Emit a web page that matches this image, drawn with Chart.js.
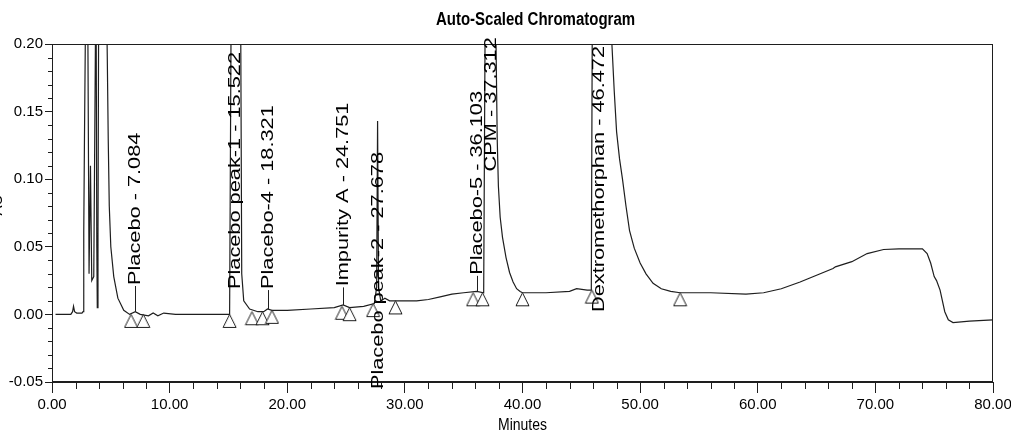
<!DOCTYPE html>
<html>
<head>
<meta charset="utf-8">
<title>Auto-Scaled Chromatogram</title>
<script src="https://cdn.jsdelivr.net/npm/chart.js@4.4.1/dist/chart.umd.min.js"></script>
<style>
    html, body { margin: 0; padding: 0; background: #fff; }
    #wrap { width: 1011px; height: 434px; }
</style>
</head>
<body>
<div id="wrap"><canvas id="chromChart" width="1011" height="434"></canvas></div>
<script>
// Detector trace: retention time (min) and absorbance (AU)
const times = [
    0.3, 1.0, 1.6, 1.75, 1.83, 1.92, 2.1, 2.55, 2.64, 2.70, 2.76, 2.89, 3.02, 3.15, 3.27, 3.38,
    3.55, 3.74, 3.81, 3.85, 3.91, 3.98, 4.59, 4.70, 4.78, 4.87, 5.00, 5.25, 5.60, 6.10, 6.60,
    7.08, 7.50, 8.20, 8.60, 9.00, 9.50, 10.5, 12.0, 13.5, 15.10, 15.25, 15.95, 16.05, 16.13,
    16.30, 16.80, 17.50, 18.00, 18.32, 18.70, 20.0, 22.0, 24.0, 24.75, 25.3, 26.5, 27.40, 27.60,
    27.68, 27.76, 27.95, 28.30, 28.70, 30.0, 31.0, 32.0, 33.0, 34.0, 35.0, 36.10, 36.70, 36.85,
    37.70, 37.75, 37.85, 37.95, 38.10, 38.30, 38.60, 38.90, 39.20, 39.50, 39.80, 40.0, 42.0, 44.0,
    44.6, 45.5, 45.85, 45.95, 47.55, 47.60, 47.80, 48.00, 48.25, 48.50, 48.80, 49.10, 49.50, 50.00,
    50.50, 51.10, 51.80, 52.60, 53.4, 56.0, 59.0, 60.5, 62.0, 63.6, 65.0, 66.4, 66.6, 68.0, 69.3,
    70.7, 72.0, 74.0, 74.4, 74.7, 75.0, 75.2, 75.5, 75.9, 76.2, 76.6, 78.0, 80.0
];
const absorbance = [
    0.000, 0.000, 0.000, 0.002, 0.006, 0.002, 0.001, 0.001, 0.002, 0.060, 0.130, 0.260, 0.260, 0.030, 0.110, 0.025,
    0.028, 0.260, 0.050, 0.005, 0.060, 0.260, 0.260, 0.190, 0.130, 0.080, 0.050, 0.028, 0.012, 0.003, 0.000,
    0.002, 0.000, -0.001, 0.001, -0.001, 0.001, 0.000, 0.000, 0.000, 0.000, 0.260, 0.260, 0.200, 0.030,
    0.010, 0.004, 0.002, 0.002, 0.004, 0.003, 0.003, 0.004, 0.005, 0.007, 0.005, 0.006, 0.008, 0.020,
    0.143, 0.020, 0.010, 0.012, 0.010, 0.010, 0.010, 0.011, 0.013, 0.015, 0.016, 0.017, 0.016, 0.260,
    0.260, 0.200, 0.130, 0.095, 0.072, 0.057, 0.042, 0.031, 0.024, 0.019, 0.017, 0.016, 0.016, 0.017,
    0.019, 0.018, 0.018, 0.260, 0.260, 0.200, 0.165, 0.135, 0.115, 0.100, 0.080, 0.062, 0.049, 0.038,
    0.030, 0.023, 0.019, 0.017, 0.016, 0.016, 0.015, 0.016, 0.019, 0.024, 0.029, 0.034, 0.0352, 0.039, 0.045,
    0.048, 0.0485, 0.0485, 0.045, 0.038, 0.028, 0.025, 0.018, 0.002, -0.004, -0.006, -0.005, -0.004
];

// Integration marks (peak start / end)
const markTimes = [6.72, 7.76, 15.1, 17.0, 17.9, 18.7, 24.65, 25.3, 27.3, 29.2, 35.8, 36.6, 40.0, 45.9, 53.4];
const markValues = [0.000, 0.000, 0.000, 0.002, 0.002, 0.003, 0.006, 0.005, 0.008, 0.010, 0.016, 0.016, 0.016, 0.018, 0.016];

// Named peaks
const peakNames = ['Placebo', 'Placebo peak-1', 'Placebo-4', 'Impurity A', 'Placebo peak-2', 'Placebo-5', 'CPM', 'Dextromethorphan'];
const peakTimes = [7.084, 15.522, 18.321, 24.751, 27.678, 36.103, 37.312, 46.472];

// Tick values
const xTicks = [0, 10, 20, 30, 40, 50, 60, 70, 80];
const yTicks = [-0.05, 0.00, 0.05, 0.10, 0.15, 0.20];

// Layout: AU level where each peak label text begins
const labelStart = [0.021, 0.018, 0.018, 0.020, -0.056, 0.0285, 0.105, 0.001];

const ink = '#1e1e1e';
const fontFamily = '"Liberation Sans", Arial, sans-serif';

function traceAt(t) {
    for (let i = 1; i < times.length; i++) {
        if (times[i] >= t) {
            const f = (t - times[i - 1]) / (times[i] - times[i - 1]);
            return absorbance[i - 1] + f * (absorbance[i] - absorbance[i - 1]);
        }
    }
    return absorbance[absorbance.length - 1];
}

// open triangle whose apex sits on the data point
function triangleMark() {
    const c = document.createElement('canvas');
    c.width = 15;
    c.height = 31;
    const g = c.getContext('2d');
    g.beginPath();
    g.moveTo(7.5, 15.5);
    g.lineTo(1, 28.5);
    g.lineTo(14, 28.5);
    g.closePath();
    g.fillStyle = '#fff';
    g.fill();
    g.strokeStyle = ink;
    g.lineWidth = 1;
    g.stroke();
    return c;
}

function hLine(ctx, x1, y1, x2, y2) {
    ctx.beginPath();
    ctx.moveTo(x1, y1);
    ctx.lineTo(x2, y2);
    ctx.stroke();
}

const chromDecor = {
    id: 'chromDecor',
    afterDraw(chart) {
        const { ctx, chartArea: a, scales: { x, y } } = chart;
        ctx.save();
        ctx.strokeStyle = ink;
        ctx.fillStyle = '#000';
        ctx.lineWidth = 1;

        // frame
        ctx.strokeRect(Math.round(a.left) + 0.5, Math.round(a.top) + 0.5,
            Math.round(a.right - a.left) - 1, Math.round(a.bottom - a.top) - 1);

        // minor ticks
        for (let t = 0; t <= 80; t += 2) {
            if (t % 10 === 0) continue;
            const px = Math.round(x.getPixelForValue(t)) + 0.5;
            hLine(ctx, px, a.bottom, px, a.bottom + 7);
        }
        for (let k = -5; k <= 20; k++) {
            if (k % 5 === 0) continue;
            const py = Math.round(y.getPixelForValue(k / 100)) + 0.5;
            hLine(ctx, a.left - 4, py, a.left + 1, py);
        }

        // peak labels with leader lines
        ctx.font = '17px ' + fontFamily;
        ctx.textBaseline = 'middle';
        ctx.textAlign = 'left';
        peakNames.forEach((name, i) => {
            const px = Math.round(x.getPixelForValue(peakTimes[i])) + 0.5;
            const base = traceAt(peakTimes[i]);
            const startY = y.getPixelForValue(labelStart[i]);
            if (labelStart[i] > base) {
                hLine(ctx, px, y.getPixelForValue(base), px, startY);
            }
            ctx.save();
            ctx.translate(px, startY - 1);
            ctx.rotate(-Math.PI / 2);
            ctx.scale(1.28, 1);
            ctx.fillText(`${name} - ${peakTimes[i].toFixed(3)}`, 0, 0);
            ctx.restore();
        });

        // chart title
        ctx.save();
        ctx.textAlign = 'center';
        ctx.font = 'bold 15px ' + fontFamily;
        ctx.translate((a.left + a.right) / 2 + 13, 20);
        ctx.scale(1, 1.25);
        ctx.fillText('Auto-Scaled Chromatogram', 0, 0);
        ctx.restore();

        // axis titles
        ctx.save();
        ctx.textAlign = 'center';
        ctx.font = '14px ' + fontFamily;
        ctx.translate((a.left + a.right) / 2, 425);
        ctx.scale(1, 1.2);
        ctx.fillText('Minutes', 0, 0);
        ctx.restore();

        ctx.save();
        ctx.textAlign = 'center';
        ctx.font = '15px ' + fontFamily;
        ctx.translate(-2, (a.top + a.bottom) / 2 - 8);
        ctx.rotate(-Math.PI / 2);
        ctx.fillText('AU', 0, 0);
        ctx.restore();

        ctx.restore();
    }
};

Chart.defaults.font.family = fontFamily;
Chart.defaults.color = '#000';

function initChart() {
    const ctx = document.getElementById('chromChart').getContext('2d');
    new Chart(ctx, {
        type: 'line',
        data: {
            datasets: [
                {
                    data: times.map((t, i) => ({ x: t, y: absorbance[i] })),
                    borderColor: ink,
                    borderWidth: 1.2,
                    pointRadius: 0,
                    tension: 0,
                    order: 2
                },
                {
                    data: markTimes.map((t, i) => ({ x: t, y: markValues[i] })),
                    showLine: false,
                    pointStyle: triangleMark(),
                    pointRadius: 7,
                    order: 1
                }
            ]
        },
        options: {
            responsive: false,
            animation: false,
            layout: { autoPadding: false, padding: { top: 44, right: 18, bottom: 0, left: 0 } },
            plugins: { legend: { display: false }, tooltip: { enabled: false } },
            scales: {
                x: {
                    type: 'linear', min: 0, max: 80,
                    afterBuildTicks: s => { s.ticks = xTicks.map(v => ({ value: v })); },
                    afterFit: s => { s.height = 52; s.paddingLeft = 0; s.paddingRight = 0; },
                    grid: { drawOnChartArea: false, drawTicks: true, tickLength: 11, color: ink },
                    border: { display: true, color: ink, width: 1 },
                    ticks: { font: { size: 15 }, padding: 3, maxRotation: 0, callback: v => v.toFixed(2) }
                },
                y: {
                    type: 'linear', min: -0.05, max: 0.20,
                    afterBuildTicks: s => { s.ticks = yTicks.map(v => ({ value: v })); },
                    afterFit: s => { s.width = 52; s.paddingTop = 0; s.paddingBottom = 0; },
                    grid: { drawOnChartArea: false, drawTicks: true, tickLength: 7, color: ink },
                    border: { display: true, color: ink, width: 1 },
                    ticks: { font: { size: 15 }, padding: 2, callback: v => v.toFixed(2) }
                }
            }
        },
        plugins: [chromDecor]
    });
}

window.onload = initChart;
</script>
</body>
</html>
